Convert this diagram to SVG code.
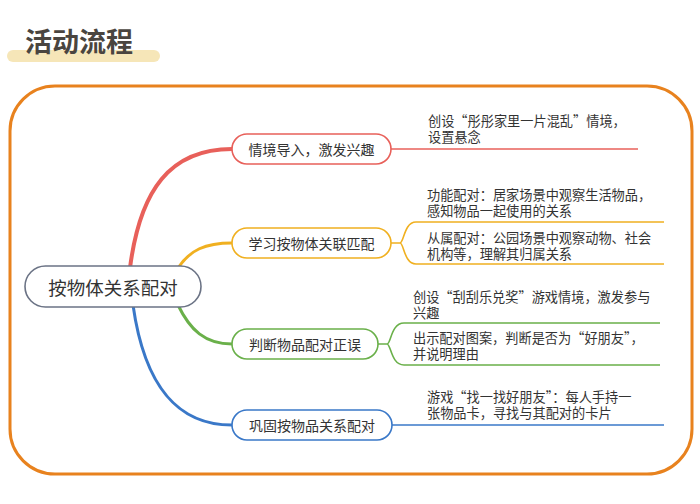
<svg xmlns="http://www.w3.org/2000/svg" width="700" height="504" viewBox="0 0 700 504">
<style>
text{font-family:"Noto Sans CJK SC","Noto Sans",sans-serif;fill:#333}
.n{fill:#fff;stroke-width:1.6}
.nt{font-size:14px;text-anchor:middle;dominant-baseline:central}
.lf{font-size:13.2px}
.c{fill:none;stroke-width:1.6}
</style>
<rect width="700" height="504" fill="#fff"/>
<rect x="7" y="50" width="153" height="12" rx="6" fill="#f6e6b8"/>
<text x="25" y="52" font-size="27" font-weight="bold" style="fill:#4a4540">活动流程</text>
<rect x="10" y="86" width="682" height="388" rx="45" fill="none" stroke="#e8821e" stroke-width="3"/>
<g id="connectors">
<path d="M130,268 C140,190 170,149 232,149" fill="none" stroke="#e8605a" stroke-width="4"/>
<path d="M178,268 C190,250 205,243 232,243" fill="none" stroke="#f0b020" stroke-width="3"/>
<path d="M178,305 C190,330 205,344 232,344" fill="none" stroke="#6ab04a" stroke-width="3"/>
<path d="M133,305 C145,390 180,425 232,425" fill="none" stroke="#3a78c8" stroke-width="3"/>
<path class="c" stroke="#e8605a" d="M391,149 H638"/>
<path class="c" stroke="#f0b020" d="M391,243 H400 C404,243 404,222 416,222 H664 M400,243 C404,243 404,264 416,264 H664"/>
<path class="c" stroke="#6ab04a" d="M378,344 H387 C391,344 391,323 404,323 H660 M387,344 C391,344 391,365 404,365 H660"/>
<path class="c" stroke="#3a78c8" d="M392,425 H664"/>
</g>
<g id="root"><rect class="n" x="25" y="266" width="176" height="41" rx="20.5" stroke="#6b7385"/><text class="nt" x="113" y="286.5" style="font-size:18.5px">按物体关系配对</text></g>
<g id="n1"><rect class="n" x="232" y="134" width="159" height="30" rx="15" stroke="#e8605a"/><text class="nt" x="311.5" y="149">情境导入，激发兴趣</text></g>
<g id="n2"><rect class="n" x="232" y="228" width="159" height="30" rx="15" stroke="#f0b020"/><text class="nt" x="311.5" y="243">学习按物体关联匹配</text></g>
<g id="n3"><rect class="n" x="232" y="329" width="146" height="30" rx="15" stroke="#6ab04a"/><text class="nt" x="305" y="344">判断物品配对正误</text></g>
<g id="n4"><rect class="n" x="232" y="410" width="160" height="30" rx="15" stroke="#3a78c8"/><text class="nt" x="312" y="425">巩固按物品关系配对</text></g>
<g id="l1"><text class="lf" x="428" y="126">创设“彤彤家里一片混乱”情境，</text><text class="lf" x="428" y="142">设置悬念</text></g>
<g id="l2"><text class="lf" x="427" y="200">功能配对：居家场景中观察生活物品，</text><text class="lf" x="427" y="216">感知物品一起使用的关系</text></g>
<g id="l3"><text class="lf" x="427" y="243">从属配对：公园场景中观察动物、社会</text><text class="lf" x="427" y="259">机构等，理解其归属关系</text></g>
<g id="l4"><text class="lf" x="413" y="302">创设“刮刮乐兑奖”游戏情境，激发参与</text><text class="lf" x="413" y="318">兴趣</text></g>
<g id="l5"><text class="lf" x="413" y="343">出示配对图案，判断是否为“好朋友”，</text><text class="lf" x="413" y="359">并说明理由</text></g>
<g id="l6"><text class="lf" x="427" y="402">游戏“找一找好朋友”：每人手持一</text><text class="lf" x="427" y="418">张物品卡，寻找与其配对的卡片</text></g>
</svg>
